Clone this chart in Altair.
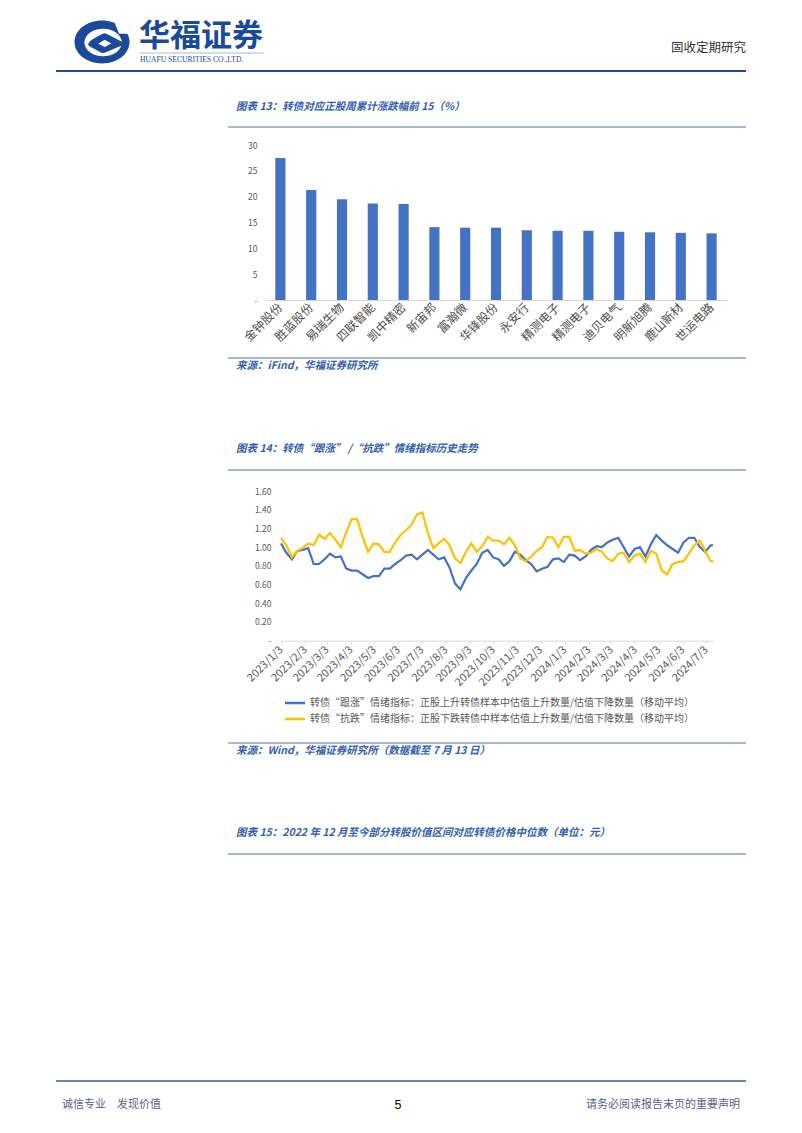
import json
import altair as alt
import pandas as pd

W, H = 786, 1117          # canvas (page minus 8px margin)
OX, OY = 8, 8             # page margin offset
CJK = "Noto Sans CJK SC"

# ---------------- page texts ----------------
header_brand = "华福证券"
header_brand_en = "HUAFU SECURITIES CO.,LTD."
header_right = "固收定期研究"
footer_left = "诚信专业\u3000发现价值"
footer_page = "5"
footer_right = "请务必阅读报告末页的重要声明"

title13 = "图表 13：转债对应正股周累计涨跌幅前 15（%）"
source13 = "来源：iFind，华福证券研究所"
title14 = "图表 14：转债“跟涨” /“抗跌”情绪指标历史走势"
source14 = "来源：Wind，华福证券研究所（数据截至 7 月 13 日）"
title15 = "图表 15：2022 年 12 月至今部分转股价值区间对应转债价格中位数（单位：元）"

# ---------------- chart 13 data ----------------
stocks = ["金钟股份", "胜蓝股份", "易瑞生物", "四联智能", "凯中精密", "新宙邦", "富瀚微",
          "华锋股份", "永安行", "精测电子", "精测电子", "迪贝电气", "明新旭腾", "鹿山新材", "世运电路"]
weekly_change = [27.5, 21.3, 19.5, 18.7, 18.6, 14.1, 14.0, 14.0, 13.5, 13.4, 13.4, 13.2, 13.1, 13.0, 12.9]
bar_ticks = [0, 5, 10, 15, 20, 25, 30]

# ---------------- chart 14 data ----------------
series_names = ["转债“跟涨”情绪指标：正股上升转债样本中估值上升数量/估值下降数量（移动平均）",
                "转债“抗跌”情绪指标：正股下跌转债中样本估值上升数量/估值下降数量（移动平均）"]
series_colors = ["#4472C4", "#FFC000"]
line_start = "2023-01-03"      # weekly readings from this date
follow_up = [1.04, 0.94, 0.87, 0.96, 0.97, 0.99, 0.82, 0.82, 0.87, 0.93,
             0.89, 0.90, 0.77, 0.75, 0.75, 0.71, 0.67, 0.69, 0.69, 0.77,
             0.77, 0.82, 0.86, 0.91, 0.92, 0.87, 0.92, 0.97, 0.92, 0.87,
             0.89, 0.78, 0.61, 0.55, 0.67, 0.75, 0.82, 0.94, 0.97, 0.89,
             0.87, 0.80, 0.85, 0.95, 0.92, 0.86, 0.82, 0.74, 0.77, 0.79,
             0.87, 0.88, 0.84, 0.92, 0.91, 0.86, 0.90, 0.97, 1.01, 1.00,
             1.05, 1.08, 1.10, 1.00, 0.90, 0.98, 1.00, 0.90, 1.03, 1.13,
             1.07, 1.02, 0.98, 0.94, 1.05, 1.10, 1.10, 1.00, 0.95, 1.02]
resist_down = [1.10, 1.02, 0.89, 0.96, 0.99, 1.04, 1.02, 1.13, 1.09, 1.15,
               1.08, 1.00, 1.16, 1.30, 1.30, 1.11, 0.95, 1.04, 1.03, 0.95,
               0.95, 1.05, 1.13, 1.18, 1.24, 1.35, 1.37, 1.15, 0.99, 1.04,
               1.09, 1.02, 0.88, 0.83, 0.95, 1.04, 0.95, 1.01, 1.11, 1.07,
               1.07, 1.03, 1.10, 1.02, 0.88, 0.85, 0.90, 0.96, 1.00, 1.11,
               1.10, 1.00, 1.11, 1.11, 0.96, 0.97, 0.93, 0.94, 0.98, 0.95,
               0.88, 0.85, 0.93, 0.94, 0.84, 0.91, 0.93, 0.84, 0.96, 0.93,
               0.75, 0.71, 0.82, 0.84, 0.85, 0.93, 1.02, 1.07, 0.96, 0.85]
last_day = "2024-07-12"
last_follow = 1.02
last_resist = 0.85
line_ticks_y = [0, 0.2, 0.4, 0.6, 0.8, 1.0, 1.2, 1.4, 1.6]
month_ticks = ["2023-01-03", "2023-02-03", "2023-03-03", "2023-04-03", "2023-05-03", "2023-06-03",
               "2023-07-03", "2023-08-03", "2023-09-03", "2023-10-03", "2023-11-03", "2023-12-03",
               "2024-01-03", "2024-02-03", "2024-03-03", "2024-04-03", "2024-05-03", "2024-06-03",
               "2024-07-03"]

# ---------------- helpers ----------------
def dt(s):
    return alt.DateTime(year=int(s[:4]), month=int(s[5:7]), date=int(s[8:10]), utc=True)


def text_layer(txt, x, y, size, color, align="left", weight="normal", style="normal", font=CJK):
    return alt.Chart(pd.DataFrame({"t": [txt]})).mark_text(
        align=align, baseline="middle", font=font, fontSize=size,
        fontWeight=weight, fontStyle=style, color=color
    ).encode(text="t:N", x=alt.value(x - OX), y=alt.value(y - OY))


def rule_layer(x1, x2, y, color, width):
    return alt.Chart(pd.DataFrame({"k": [0]})).mark_rule(color=color, strokeWidth=width).encode(
        x=alt.value(x1 - OX), x2=alt.value(x2 - OX), y=alt.value(y - OY))


def shape_layer(path, x, y, size, color):
    return alt.Chart(pd.DataFrame({"k": [0]})).mark_point(
        shape=path, filled=True, size=size, color=color, opacity=1, strokeWidth=0
    ).encode(x=alt.value(x - OX), y=alt.value(y - OY))


layers = []

# ---------------- header ----------------
LOGO_BLUE = "#1b4a9a"
LX, LY, LS = 102, 42, 55 * 55
layers.append(shape_layer("M-1,0A1,0.78,0,1,1,1,0A1,0.78,0,1,1,-1,0Z", LX, LY, LS, LOGO_BLUE))
layers.append(shape_layer("M-0.64,0.02A0.68,0.5,0,1,1,0.72,0.02A0.68,0.5,0,1,1,-0.64,0.02Z", LX, LY, LS, "#ffffff"))
layers.append(shape_layer("M0.38,-0.9L1.1,-0.9L1.1,-0.3L0.62,-0.3Z", LX, LY, LS, "#ffffff"))
layers.append(shape_layer(
    "M-0.5,0.06Q-0.46,-0.04,-0.3,-0.13L0.02,-0.3Q0.1,-0.34,0.18,-0.29L0.74,0.0L0.74,0.12"
    "L0.12,0.38Q0.04,0.42,-0.04,0.38L-0.44,0.16Q-0.52,0.11,-0.5,0.06Z", LX, LY, LS, LOGO_BLUE))
layers.append(shape_layer("M-0.14,0.06L0.1,-0.08L0.34,0.05L0.1,0.18Z", LX, LY, LS, "#ffffff"))

layers.append(text_layer(header_brand, 139, 37, 31, LOGO_BLUE, weight="bold"))
layers.append(rule_layer(140, 264, 53, "#9aa4b8", 0.8))
layers.append(text_layer(header_brand_en, 140, 60, 7.6, LOGO_BLUE, font="Liberation Serif"))
layers.append(text_layer(header_right, 746, 48, 12.5, "#333333", align="right"))
layers.append(rule_layer(56, 746, 71, "#24498f", 2))

# ---------------- chart 13 frame ----------------
TITLE_BLUE = "#3460ae"
RULE_COLOR = "#8c9fc2"
layers.append(text_layer(title13, 236, 107, 10.5, TITLE_BLUE, style="italic", weight="bold"))
layers.append(rule_layer(228, 746, 127, RULE_COLOR, 1.5))
layers.append(rule_layer(228, 746, 358, RULE_COLOR, 1.5))
layers.append(text_layer(source13, 236, 366, 10.5, TITLE_BLUE, style="italic", weight="bold"))

# ---------------- chart 13 bars ----------------
bar_df = pd.DataFrame({"idx": list(range(len(stocks))), "name": stocks, "value": weekly_change})
name_expr = json.dumps(stocks, ensure_ascii=False) + "[datum.value]"
bars = alt.Chart(bar_df).mark_bar(color="#4472C4").encode(
    x=alt.X("idx:O",
            scale=alt.Scale(range=[265 - OX, 727 - OX], paddingInner=0.67, paddingOuter=0.335),
            axis=alt.Axis(orient="bottom", offset=(300 - OY) - H, title=None, labelExpr=name_expr,
                          labelAngle=315, labelAlign="right", labelBaseline="middle", labelPadding=5,
                          labelOverlap=False, ticks=False, domainColor="#d9d9d9", domainWidth=1,
                          grid=False, labelFont=CJK, labelFontSize=12, labelColor="#505050")),
    y=alt.Y("value:Q",
            scale=alt.Scale(domain=[0, 30], range=[300 - OY, 145 - OY], nice=False, zero=True),
            axis=alt.Axis(orient="left", offset=-(265 - OX), title=None, values=bar_ticks,
                          labelExpr="datum.value == 0 ? '-' : datum.label",
                          domain=False, ticks=False, grid=False, labelPadding=8,
                          labelFont=CJK, labelFontSize=8.5, labelColor="#595959")),
)
layers.append(bars)

# ---------------- chart 14 frame ----------------
layers.append(text_layer(title14, 236, 449, 10.5, TITLE_BLUE, style="italic", weight="bold"))
layers.append(rule_layer(228, 746, 470, RULE_COLOR, 1.5))
layers.append(rule_layer(228, 746, 743, RULE_COLOR, 1.5))
layers.append(text_layer(source14, 236, 751, 10.5, TITLE_BLUE, style="italic", weight="bold"))

# ---------------- chart 14 lines ----------------
dates = [d.strftime("%Y-%m-%d") for d in pd.date_range(line_start, periods=len(follow_up), freq="7D")]
dates_all = dates + [last_day]
df_follow = pd.DataFrame({"date": dates_all, "value": follow_up + [last_follow], "series": series_names[0]})
df_resist = pd.DataFrame({"date": dates_all, "value": resist_down + [last_resist], "series": series_names[1]})

x_line_scale = alt.Scale(type="utc", domain=[dt(line_start), dt(last_day)], range=[281 - OX, 713 - OX])
y_line_scale = alt.Scale(domain=[0, 1.6], range=[640.7 - OY, 491 - OY], nice=False, zero=True)
color_scale = alt.Scale(domain=series_names, range=series_colors)

line_blue = alt.Chart(df_follow).mark_line(strokeWidth=2.2).encode(
    x=alt.X("date:T", scale=x_line_scale,
            axis=alt.Axis(orient="bottom", offset=(640.7 - OY) - H, title=None,
                          values=[dt(s) for s in month_ticks],
                          labelExpr="utcFormat(datum.value, '%Y/%-m/%-d')",
                          labelOverlap=False, labelAngle=315, labelAlign="right",
                          labelBaseline="middle", labelPadding=4,
                          ticks=True, tickSize=3, tickColor="#d9d9d9", domainColor="#d9d9d9",
                          grid=False, labelFont=CJK, labelFontSize=11, labelColor="#595959")),
    y=alt.Y("value:Q", scale=y_line_scale,
            axis=alt.Axis(orient="left", offset=-(281 - OX), title=None, values=line_ticks_y,
                          labelExpr="datum.value == 0 ? '-' : format(datum.value, '.2f')",
                          domain=False, ticks=False, grid=False, labelPadding=10,
                          labelFont=CJK, labelFontSize=8.5, labelColor="#595959")),
    color=alt.Color("series:N", scale=color_scale, legend=None),
)
line_yellow = alt.Chart(df_resist).mark_line(strokeWidth=2.2).encode(
    x=alt.X("date:T", scale=x_line_scale, axis=None),
    y=alt.Y("value:Q", scale=y_line_scale, axis=None),
    color=alt.Color("series:N", scale=color_scale, legend=None),
)
layers += [line_blue, line_yellow]

# legend
leg_df = pd.DataFrame({"series": series_names})
leg_y = alt.Y("series:N", scale=alt.Scale(type="point", domain=series_names,
                                          range=[703 - OY, 719 - OY], padding=0), axis=None)
leg_rule = alt.Chart(leg_df).mark_rule(strokeWidth=2.5).encode(
    x=alt.value(285 - OX), x2=alt.value(305 - OX), y=leg_y,
    color=alt.Color("series:N", scale=color_scale, legend=None))
leg_text = alt.Chart(leg_df).mark_text(align="left", baseline="middle", font=CJK,
                                       fontSize=10, color="#595959").encode(
    x=alt.value(310 - OX), y=leg_y, text="series:N")
layers += [leg_rule, leg_text]

# ---------------- chart 15 frame ----------------
layers.append(text_layer(title15, 236, 833, 10.5, TITLE_BLUE, style="italic", weight="bold"))
layers.append(rule_layer(228, 746, 854, RULE_COLOR, 1.5))

# ---------------- footer ----------------
layers.append(rule_layer(56, 746, 1081, "#3d5a8a", 1.5))
FOOT = "#5d5d90"
layers.append(text_layer(footer_left, 62, 1105, 11, FOOT))
layers.append(text_layer(footer_page, 398, 1105, 12.5, "#000000", align="center", font="Liberation Sans"))
layers.append(text_layer(footer_right, 740, 1105, 11, FOOT, align="right"))

chart = alt.layer(*layers).resolve_scale(
    x="independent", y="independent"
).properties(
    width=W, height=H, autosize=alt.AutoSizeParams(type="none"), padding=0
).configure(background="white", font=CJK).configure_view(stroke=None)

chart.save("out.html", embed_options={"renderer": "svg", "actions": False})
